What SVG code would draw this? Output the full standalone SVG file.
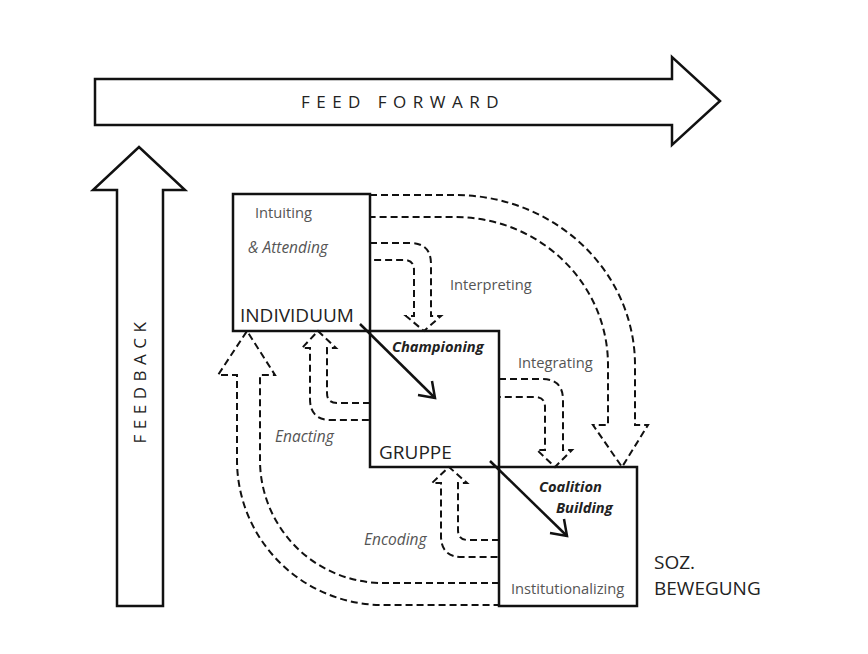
<svg xmlns="http://www.w3.org/2000/svg" width="868" height="654" viewBox="0 0 868 654">
<style>
.big{fill:#fff;stroke:#111;stroke-width:2.5}
.box{fill:none;stroke:#111;stroke-width:2.5}
.d{fill:none;stroke:#111;stroke-width:2;stroke-dasharray:7,4}
.s{fill:none;stroke:#111;stroke-width:2.5}
text{font-family:"Open Sans","Liberation Sans",sans-serif}
.g{fill:#555;font-size:14.7px}
.gi{fill:#555;font-size:15.5px;font-style:italic}
.bi{fill:#222;font-size:14.7px;font-style:italic;font-weight:bold}
.lab{fill:#222;font-size:19px}
.wide{fill:#222;font-size:17px;letter-spacing:6.5px}
</style>
<rect width="868" height="654" fill="#fff"/>
<g id="feedforward">
<polygon class="big" points="95,79 672,79 672,57 720,101 672,145 672,125 95,125"/>
<text class="wide" x="403" y="108" text-anchor="middle">FEED FORWARD</text>
</g>
<g id="feedback">
<polygon class="big" points="117,606 117,190 93,190 139,147 185,190 163,190 163,606"/>
<text class="wide" transform="translate(146,380) rotate(-90)" text-anchor="middle" style="letter-spacing:5.5px">FEEDBACK</text>
</g>
<g id="connectors">
<path class="d" d="M370,243 H410 Q431,243 431,264 V316 H441 L424,331 L406,316 H414 V270 Q414,260 404,260 H370"/>
<path class="d" d="M370,195 H455 A180,170 0 0 1 635,365 V425 H648 L622,467 L593,425 H608 V365 A153,148 0 0 0 455,217 H370"/>
<path class="d" d="M499,379 H542 Q563,379 563,400 V450 H572 L555,467 L537,450 H545 V407 Q545,397 535,397 H499"/>
<path class="d" d="M370,403 H337 Q327,403 327,393 V348 H336 L318,331 L302,348 H310 V399 Q310,420 331,420 H370"/>
<path class="d" d="M499,540 H468 Q458,540 458,530 V483 H467 L449,467 L432,483 H441 V536 Q441,557 462,557 H499"/>
<path class="d" d="M499,583 H383 A123,123 0 0 1 260,460 V375 H275 L247,331 L218,375 H237 V460 A146,145 0 0 0 383,605 H499"/>
<line class="s" x1="360" y1="324" x2="435" y2="398"/>
<polyline class="s" points="418,395 435,398 432,381"/>
<line class="s" x1="490" y1="461" x2="567" y2="536"/>
<polyline class="s" points="550,533 567,536 564,519"/>
</g>
<g id="individuum">
<rect class="box" x="233" y="194" width="137" height="137"/>
<text class="g" x="255" y="218">Intuiting</text>
<text class="gi" x="248" y="253">&amp; Attending</text>
<text class="lab" x="240" y="322">INDIVIDUUM</text>
</g>
<g id="gruppe">
<rect class="box" x="370" y="331" width="129" height="136"/>
<text class="bi" x="392" y="352">Championing</text>
<text class="lab" x="379" y="459">GRUPPE</text>
</g>
<g id="soz">
<rect class="box" x="499" y="467" width="138" height="139"/>
<text class="bi" x="539" y="492">Coalition</text>
<text class="bi" x="556" y="513">Building</text>
<text class="g" x="511" y="594">Institutionalizing</text>
</g>
<g id="labels">
<text class="g" x="450" y="290">Interpreting</text>
<text class="g" x="518" y="368">Integrating</text>
<text class="gi" x="275" y="442">Enacting</text>
<text class="gi" x="364" y="545">Encoding</text>
<text class="lab" x="654" y="569">SOZ.</text>
<text class="lab" x="654" y="595">BEWEGUNG</text>
</g>
</svg>
